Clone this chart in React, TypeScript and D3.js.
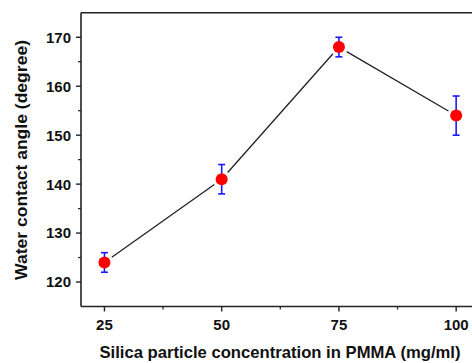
import React, { useEffect } from 'react';
import * as d3 from 'd3';

const concentrations = [25, 50, 75, 100];
const contactAngles = [124, 141, 168, 154];
const angleErrors = [2, 3, 2, 4];
const xTickValues = [25, 50, 75, 100];
const xMinorTicks = [37.5, 62.5, 87.5];
const yTickValues = [120, 130, 140, 150, 160, 170];
const yMinorTicks = [125, 135, 145, 155, 165];

const W = 472;
const H = 363;
const font = '"Liberation Sans", Arial, sans-serif';

export default function App() {
  useEffect(() => {
    document.body.style.margin = '0';
  }, []);

  const x = d3.scaleLinear().domain([20, 105]).range([81, 479.6]);
  const y = d3.scaleLinear().domain([115, 175]).range([306.5, 12.8]);

  const pts = concentrations.map((c, i) => ({ x: x(c), y: y(contactAngles[i]), e: angleErrors[i], v: contactAngles[i] }));

  // line segments trimmed so they stop short of the markers
  const gap = 9;
  const segs = pts.slice(1).map((p, i) => {
    const a = pts[i];
    const dx = p.x - a.x;
    const dy = p.y - a.y;
    const len = Math.sqrt(dx * dx + dy * dy);
    const ux = dx / len;
    const uy = dy / len;
    return { x1: a.x + ux * gap, y1: a.y + uy * gap, x2: p.x - ux * gap, y2: p.y - uy * gap };
  });

  const x0 = x(20);
  const yBottom = y(115);
  const yTop = y(175);

  return (
    <svg width={W} height={H} style={{ display: 'block', background: '#fff' }} fontFamily={font}>
      {/* frame */}
      <line x1={x0} x2={W} y1={yTop} y2={yTop} stroke="#222" strokeWidth={1.6} />
      <line x1={x0} x2={x0} y1={yTop} y2={yBottom} stroke="#222" strokeWidth={1.6} />
      <line x1={x0} x2={W} y1={yBottom} y2={yBottom} stroke="#222" strokeWidth={1.6} />

      {/* y ticks */}
      {yTickValues.map((t) => (
        <g key={'yt' + t}>
          <line x1={x0 - 5} x2={x0} y1={y(t)} y2={y(t)} stroke="#222" strokeWidth={1.4} />
          <text x={x0 - 10} y={y(t)} dy="0.36em" textAnchor="end" fontSize={15} fontWeight="bold" fill="#111">
            {t}
          </text>
        </g>
      ))}
      {yMinorTicks.map((t) => (
        <line key={'ym' + t} x1={x0 - 3} x2={x0} y1={y(t)} y2={y(t)} stroke="#222" strokeWidth={1.2} />
      ))}

      {/* x ticks */}
      {xTickValues.map((t) => (
        <g key={'xt' + t}>
          <line x1={x(t)} x2={x(t)} y1={yBottom} y2={yBottom + 5} stroke="#222" strokeWidth={1.4} />
          <text x={x(t)} y={yBottom + 23.5} textAnchor="middle" fontSize={15} fontWeight="bold" fill="#111">
            {t}
          </text>
        </g>
      ))}
      {xMinorTicks.map((t) => (
        <line key={'xm' + t} x1={x(t)} x2={x(t)} y1={yBottom} y2={yBottom + 3} stroke="#222" strokeWidth={1.2} />
      ))}

      {/* connecting line */}
      {segs.map((s, i) => (
        <line key={'s' + i} x1={s.x1} y1={s.y1} x2={s.x2} y2={s.y2} stroke="#222" strokeWidth={1.3} />
      ))}

      {/* error bars */}
      {pts.map((p, i) => {
        const yHi = y(p.v + p.e);
        const yLo = y(p.v - p.e);
        return (
          <g key={'e' + i} stroke="#1a1aff" strokeWidth={1.6}>
            <line x1={p.x} x2={p.x} y1={yHi} y2={yLo} />
            <line x1={p.x - 3.5} x2={p.x + 3.5} y1={yHi} y2={yHi} />
            <line x1={p.x - 3.5} x2={p.x + 3.5} y1={yLo} y2={yLo} />
          </g>
        );
      })}

      {/* markers */}
      {pts.map((p, i) => (
        <circle key={'m' + i} cx={p.x} cy={p.y} r={6} fill="#ff0000" />
      ))}

      {/* axis titles */}
      <text
        transform={`translate(27,160) rotate(-90)`}
        textAnchor="middle"
        fontSize={17}
        fontWeight="bold"
        fill="#111"
        textLength={240}
        lengthAdjust="spacingAndGlyphs"
      >
        Water contact angle (degree)
      </text>
      <text
        x={280}
        y={358}
        textAnchor="middle"
        fontSize={16.5}
        fontWeight="bold"
        fill="#111"
        textLength={361}
        lengthAdjust="spacingAndGlyphs"
      >
        Silica particle concentration in PMMA (mg/ml)
      </text>
    </svg>
  );
}
